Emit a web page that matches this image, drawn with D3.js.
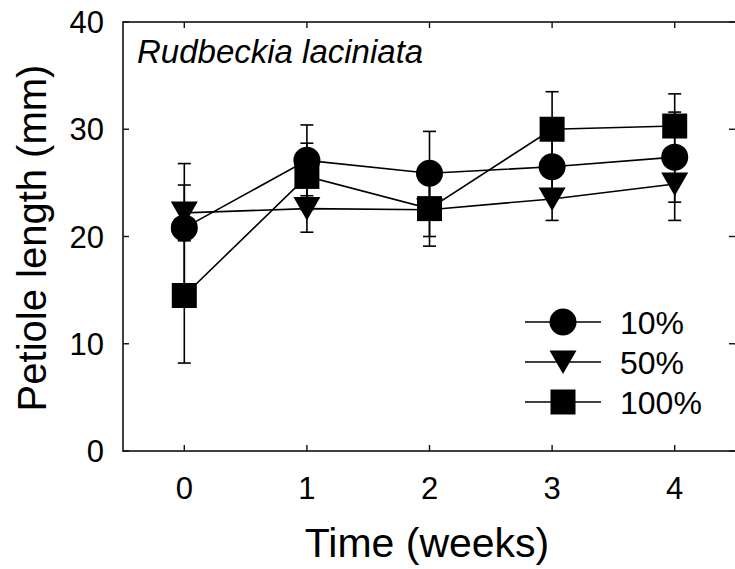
<!DOCTYPE html>
<html>
<head>
<meta charset="utf-8">
<script src="https://cdn.jsdelivr.net/npm/d3@7"></script>
<style>
  body { margin: 0; background: #fff; }
  text { font-family: "Liberation Sans", Arial, sans-serif; fill: #000; }
</style>
</head>
<body>
<div class="chart"></div>
<script>
// data
var weeks = [0, 1, 2, 3, 4];
var mean10 = [20.8, 27.1, 25.9, 26.5, 27.4];
var err10 = [6.0, 3.3, 3.9, 3.0, 4.2];
var mean50 = [22.2, 22.6, 22.5, 23.5, 24.9];
var err50 = [2.6, 2.2, 2.5, 2.0, 3.4];
var mean100 = [14.5, 25.6, 22.6, 30.0, 30.3];
var err100 = [6.3, 3.1, 3.5, 3.5, 3.0];
var seriesNames = ["10%", "50%", "100%"];
var yTicks = [0, 10, 20, 30, 40];

var W = 735, H = 569;
var svg = d3.select(".chart").append("svg")
  .attr("width", W).attr("height", H);

var x = d3.scaleLinear().domain([-0.5, 4.5]).range([123, 736]);
var y = d3.scaleLinear().domain([0, 40]).range([451, 22]);

var series = [
  {name: seriesNames[0], mean: mean10, err: err10, shape: "circle"},
  {name: seriesNames[1], mean: mean50, err: err50, shape: "triangle"},
  {name: seriesNames[2], mean: mean100, err: err100, shape: "square"}
];

// marker shapes, centred on bounding box
function shapePath(shape) {
  if (shape == "circle") return d3.symbol(d3.symbolCircle, Math.PI * 13.5 * 13.5)();
  if (shape == "square") return "M-12.5,-12.5H12.5V12.5H-12.5Z";
  return "M-13.5,-11.5L13.5,-11.5L0,12Z";
}

// frame
svg.append("rect")
  .attr("x", x.range()[0]).attr("y", y.range()[1])
  .attr("width", x.range()[1] - x.range()[0])
  .attr("height", y.range()[0] - y.range()[1])
  .attr("fill", "none").attr("stroke", "#111").attr("stroke-width", 1.6);

// inward ticks on all four sides
var tickLen = 6;
var tk = svg.append("g").attr("stroke", "#111").attr("stroke-width", 1.4);
weeks.forEach(function(w) {
  tk.append("line").attr("x1", x(w)).attr("x2", x(w)).attr("y1", y(0)).attr("y2", y(0) - tickLen);
  tk.append("line").attr("x1", x(w)).attr("x2", x(w)).attr("y1", y(40)).attr("y2", y(40) + tickLen);
});
yTicks.forEach(function(v) {
  tk.append("line").attr("x1", x(-0.5)).attr("x2", x(-0.5) + tickLen).attr("y1", y(v)).attr("y2", y(v));
  tk.append("line").attr("x1", x(4.5) - tickLen - 1).attr("x2", x(4.5)).attr("y1", y(v)).attr("y2", y(v));
});

// tick labels
svg.append("g").selectAll("text").data(yTicks).enter().append("text")
  .attr("x", 104).attr("y", function(d) { return y(d) + 11; })
  .attr("text-anchor", "end").style("font-size", "31px")
  .text(function(d) { return d; });

svg.append("g").selectAll("text").data(weeks).enter().append("text")
  .attr("x", function(d) { return x(d); }).attr("y", 499)
  .attr("text-anchor", "middle").style("font-size", "31px")
  .text(function(d) { return d; });

// axis titles
svg.append("text")
  .attr("x", 427).attr("y", 557)
  .attr("text-anchor", "middle").style("font-size", "41px")
  .text("Time (weeks)");

svg.append("text")
  .attr("transform", "translate(46,238) rotate(-90)")
  .attr("text-anchor", "middle").style("font-size", "40px")
  .text("Petiole length (mm)");

svg.append("text")
  .attr("x", 137).attr("y", 63)
  .style("font-size", "33px").style("font-style", "italic")
  .text("Rudbeckia laciniata");

var line = d3.line()
  .x(function(d, i) { return x(weeks[i]); })
  .y(function(d) { return y(d); });

// connecting lines
series.forEach(function(s) {
  svg.append("path").datum(s.mean)
    .attr("d", line)
    .attr("fill", "none").attr("stroke", "#000").attr("stroke-width", 1.6);
});

// error bars
series.forEach(function(s) {
  var g = svg.append("g").attr("stroke", "#000").attr("stroke-width", 1.6);
  s.mean.forEach(function(m, i) {
    var cx = x(weeks[i]), lo = y(m - s.err[i]), hi = y(m + s.err[i]);
    g.append("line").attr("x1", cx).attr("x2", cx).attr("y1", lo).attr("y2", hi);
    g.append("line").attr("x1", cx - 6.5).attr("x2", cx + 6.5).attr("y1", lo).attr("y2", lo);
    g.append("line").attr("x1", cx - 6.5).attr("x2", cx + 6.5).attr("y1", hi).attr("y2", hi);
  });
});

// markers
series.forEach(function(s) {
  svg.append("g").selectAll("path").data(s.mean).enter().append("path")
    .attr("d", shapePath(s.shape))
    .attr("transform", function(d, i) { return "translate(" + x(weeks[i]) + "," + y(d) + ")"; })
    .attr("fill", "#000");
});

// legend
var legend = svg.append("g").attr("transform", "translate(525,322)");
series.forEach(function(s, i) {
  var row = legend.append("g").attr("transform", "translate(0," + (i * 40) + ")");
  row.append("line").attr("x1", 0).attr("x2", 76).attr("y1", 0).attr("y2", 0)
    .attr("stroke", "#000").attr("stroke-width", 1.6);
  row.append("path").attr("d", shapePath(s.shape))
    .attr("transform", "translate(38,0)").attr("fill", "#000");
  row.append("text").attr("x", 95).attr("y", 12)
    .style("font-size", "32px").text(s.name);
});
</script>
</body>
</html>
